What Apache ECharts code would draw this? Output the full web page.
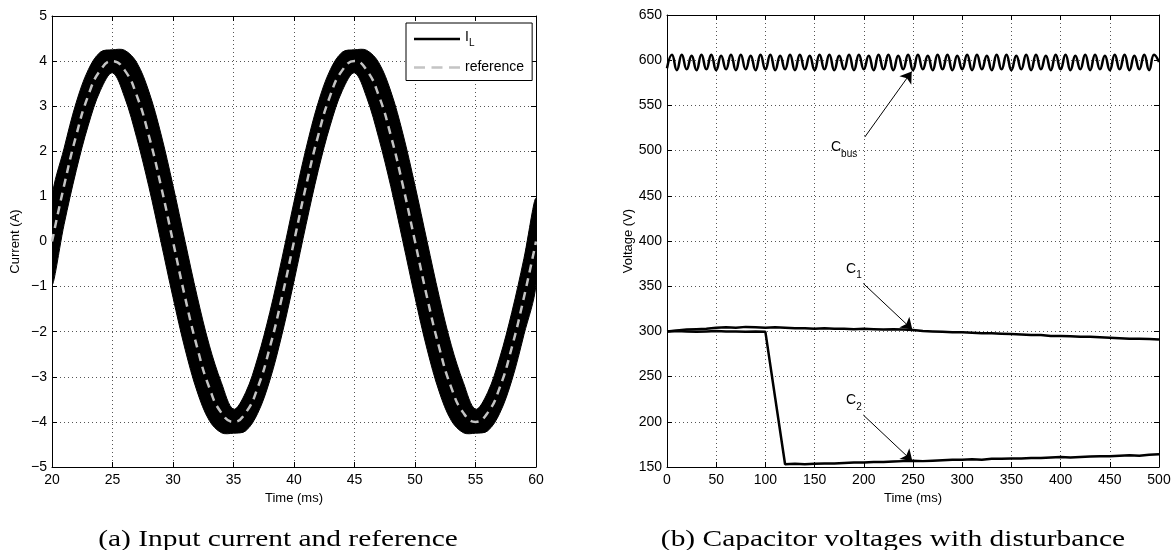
<!DOCTYPE html>
<html>
<head>
<meta charset="utf-8">
<script src="https://cdn.jsdelivr.net/npm/echarts@6/dist/echarts.min.js"></script>
<style>
  html, body { margin: 0; padding: 0; background: #fff; }
  #chart { width: 1174px; height: 550px; }
</style>
</head>
<body>
<div id="chart"></div>
<script>
// (a) input current, sampled every 1 ms from 20 to 60 ms
var timeA = [20,21,22,23,24,25,26,27,28,29,30,31,32,33,34,35,36,37,38,39,40,
             41,42,43,44,45,46,47,48,49,50,51,52,53,54,55,56,57,58,59,60];
var refA = [0,1.24,2.35,3.24,3.80,4.00,3.80,3.24,2.35,1.24,0,-1.24,-2.35,-3.24,-3.80,-4.00,-3.80,-3.24,-2.35,-1.24,0,
            1.24,2.35,3.24,3.80,4.00,3.80,3.24,2.35,1.24,0,-1.24,-2.35,-3.24,-3.80,-4.00,-3.80,-3.24,-2.35,-1.24,0];
// upper / lower edge of the I_L ripple band
var ilUpper = [0.95,2.07,3.08,3.81,4.20,4.25,4.24,3.97,3.33,2.39,1.24,0.00,-1.22,-2.30,-3.13,-3.72,-3.35,-2.58,-1.57,-0.38,0.88,
               2.07,3.08,3.81,4.20,4.25,4.24,3.97,3.33,2.39,1.24,0.00,-1.22,-2.30,-3.13,-3.72,-3.35,-2.58,-1.57,-0.38,0.95];
var ilLower = [-0.95,0.38,1.57,2.58,3.35,3.74,3.20,2.30,1.22,0.00,-1.24,-2.39,-3.33,-3.97,-4.24,-4.25,-4.20,-3.81,-3.08,-2.07,-0.88,
               0.38,1.57,2.58,3.35,3.74,3.20,2.30,1.22,0.00,-1.24,-2.39,-3.33,-3.97,-4.24,-4.25,-4.20,-3.81,-3.08,-2.07,-0.95];

// (b) capacitor voltages
var cbusStep = 5; // ms between samples
var cbusV = [591,606,589,606,590,605,589,606,590,606,
             589,605,590,606,589,606,590,605,589,606,
             590,606,589,605,590,606,589,606,590,605,
             589,606,590,606,589,605,590,606,589,606,
             590,605,589,606,590,606,589,605,590,606,
             589,606,590,605,589,606,590,606,589,605,
             590,606,589,606,590,605,589,606,590,606,
             589,605,590,606,589,606,590,605,589,606,
             590,606,589,605,590,606,589,606,590,605,
             589,606,590,606,589,605,590,606,589,606,
             598];
var capStep = 10;
var c1V = [300,301,302,302.5,303,304,304.5,304,305,304.5,
           304,304.5,304,303.5,303.5,303,303.5,303,303,302.5,
           303,302.5,302,302.5,302,301.5,300.5,300,299.5,299,
           299,298.5,298,298,297.5,297,296.5,296,296,295,
           295,294.5,294,294,293.5,293,292.5,292,292,291.5,
           291];
var c2V = [300,300.5,300,299.5,300,300.5,300,300,299.5,300,
           299.5,226,153,153.5,153,153.5,154,154,154.5,155,
           155,155.5,155.5,156,156.5,157,156.5,157,157.5,158,
           158,158.5,158,159,159,159.5,159.5,160,160,160.5,
           161,160.5,161,161.5,162,162,162.5,163,162.5,163.5,
           164];

function pairs(xs, ys) { return ys.map(function (v, i) { return [xs[i], v]; }); }
function stepPairs(step, ys) { return ys.map(function (v, i) { return [i * step, v]; }); }
function minus(v) { return String(v).replace('-', '\u2212'); }

var FONT = '"Liberation Sans", Arial, sans-serif';
var gridLine = { show: true, lineStyle: { color: '#555', width: 1, type: [1, 3] } };
var boxLine = { show: true, onZero: false, lineStyle: { color: '#000', width: 1 } };
var tick = { show: true, inside: true, length: 5, lineStyle: { color: '#000' } };
var tickLbl = { color: '#000', fontSize: 14, fontFamily: FONT };

function mainX(gi, min, max, step) {
  return {
    type: 'value', gridIndex: gi, min: min, max: max, interval: step, position: 'bottom',
    name: 'Time (ms)', nameLocation: 'middle', nameGap: 23,
    nameTextStyle: { color: '#000', fontSize: 13, fontFamily: FONT },
    axisLine: boxLine, axisTick: tick, splitLine: gridLine,
    axisLabel: Object.assign({ margin: 6, formatter: minus }, tickLbl)
  };
}
function mainY(gi, min, max, step, label) {
  return {
    type: 'value', gridIndex: gi, min: min, max: max, interval: step, position: 'left',
    name: label, nameLocation: 'middle', nameGap: 30,
    nameTextStyle: { color: '#000', fontSize: 13, fontFamily: FONT },
    axisLine: boxLine, axisTick: tick, splitLine: gridLine,
    axisLabel: Object.assign({ margin: 5, formatter: minus }, tickLbl)
  };
}
function sideAxis(gi, min, max, step, pos) {
  return {
    type: 'value', gridIndex: gi, min: min, max: max, interval: step, position: pos,
    axisLine: boxLine, axisTick: tick, splitLine: { show: false }, axisLabel: { show: false }
  };
}

var subRich = {
  c: { fontSize: 14, fontFamily: FONT, color: '#000', padding: [0, 0, 6, 0] },
  s: { fontSize: 10, fontFamily: FONT, color: '#000', padding: [8, 0, 0, 0] }
};
function tag(x, y, main, sub) {
  return {
    symbolSize: 0, data: [{ coord: [x, y] }],
    label: { show: true, position: 'inside', formatter: '{c|' + main + '}{s|' + sub + '}', rich: subRich }
  };
}
function arrow(x1, y1, x2, y2) {
  return {
    silent: true, symbol: ['none', 'arrow'], symbolSize: 11,
    lineStyle: { color: '#000', width: 1, type: 'solid' }, label: { show: false },
    data: [[{ coord: [x1, y1] }, { coord: [x2, y2] }]]
  };
}

// ripple band of I_L: one filled shape between the upper and lower edges
function renderBand(params, api) {
  if (params.dataIndex !== 0) return null;
  var pts = [];
  for (var i = 0; i < timeA.length; i++) pts.push(api.coord([timeA[i], ilUpper[i]]));
  for (var j = timeA.length - 1; j >= 0; j--) pts.push(api.coord([timeA[j], ilLower[j]]));
  return {
    type: 'polygon',
    shape: { points: pts, smooth: 0.35 },
    style: { fill: '#000', stroke: '#000', lineWidth: 1 }
  };
}

var solidIcon = 'path://M0,0 L46,0 L46,2.5 L0,2.5 Z';
var dashIcon = 'path://M0,0 L11,0 L11,2.5 L0,2.5 Z M17.5,0 L28.5,0 L28.5,2.5 L17.5,2.5 Z M35,0 L46,0 L46,2.5 L35,2.5 Z';

var chart = echarts.init(document.getElementById('chart'));
var option = {
  animation: false,
  backgroundColor: '#fff',
  grid: [
    { left: 52, top: 16, width: 484, height: 451 },
    { left: 667, top: 15, width: 492, height: 452 }
  ],
  xAxis: [
    mainX(0, 20, 60, 5), sideAxis(0, 20, 60, 5, 'top'),
    mainX(1, 0, 500, 50), sideAxis(1, 0, 500, 50, 'top')
  ],
  yAxis: [
    mainY(0, -5, 5, 1, 'Current (A)'), sideAxis(0, -5, 5, 1, 'right'),
    mainY(1, 150, 650, 50, 'Voltage (V)'), sideAxis(1, 150, 650, 50, 'right')
  ],
  legend: {
    left: 406, top: 23, orient: 'vertical',
    backgroundColor: '#fff', borderColor: '#000', borderWidth: 1, borderRadius: 0,
    padding: [7, 8, 6, 8], itemWidth: 46, itemHeight: 10, itemGap: 12,
    textStyle: { color: '#000', fontSize: 14, fontFamily: FONT,
      rich: { m: { fontSize: 14, fontFamily: FONT, padding: [0, 0, 4, 0] },
              s: { fontSize: 10, fontFamily: FONT, padding: [9, 0, 0, 0] } } },
    formatter: function (n) { return n === 'I_L' ? '{m|I}{s|L}' : n; },
    data: [
      { name: 'I_L', icon: solidIcon, itemStyle: { color: '#000' } },
      { name: 'reference', icon: dashIcon, itemStyle: { color: '#c4c4c4' } }
    ]
  },
  series: [
    {
      name: 'I_L', type: 'custom', xAxisIndex: 0, yAxisIndex: 0, clip: true,
      color: '#000', data: pairs(timeA, ilUpper), renderItem: renderBand
    },
    {
      name: 'reference', type: 'line', xAxisIndex: 0, yAxisIndex: 0, z: 5,
      data: pairs(timeA, refA), smooth: true, symbol: 'none', color: '#c4c4c4',
      lineStyle: { color: '#c4c4c4', width: 2.5, type: [8, 6] }
    },
    {
      name: 'Cbus', type: 'line', xAxisIndex: 2, yAxisIndex: 2,
      data: stepPairs(cbusStep, cbusV), smooth: true, symbol: 'none',
      lineStyle: { color: '#000', width: 2.5 },
      markLine: arrow(201, 515, 248.7, 587.5),
      markPoint: tag(180, 500, 'C', 'bus')
    },
    {
      name: 'C1', type: 'line', xAxisIndex: 2, yAxisIndex: 2,
      data: stepPairs(capStep, c1V), symbol: 'none',
      lineStyle: { color: '#000', width: 2.5 },
      markLine: arrow(199.5, 353, 249.3, 302),
      markPoint: tag(190, 366, 'C', '1')
    },
    {
      name: 'C2', type: 'line', xAxisIndex: 2, yAxisIndex: 2,
      data: stepPairs(capStep, c2V), symbol: 'none',
      lineStyle: { color: '#000', width: 2.5 },
      markLine: arrow(199.5, 207.5, 249.3, 156.5),
      markPoint: tag(190, 221, 'C', '2')
    }
  ],
  graphic: [
    { type: 'text', x: 278, y: 540, scaleX: 1.28, originX: 0, style: { text: '(a) Input current and reference',
      font: '23px "Liberation Serif", serif', fill: '#000', align: 'center', verticalAlign: 'middle' } },
    { type: 'text', x: 893, y: 540, scaleX: 1.28, style: { text: '(b) Capacitor voltages with disturbance',
      font: '23px "Liberation Serif", serif', fill: '#000', align: 'center', verticalAlign: 'middle' } }
  ]
};
chart.setOption(option);
</script>
</body>
</html>
